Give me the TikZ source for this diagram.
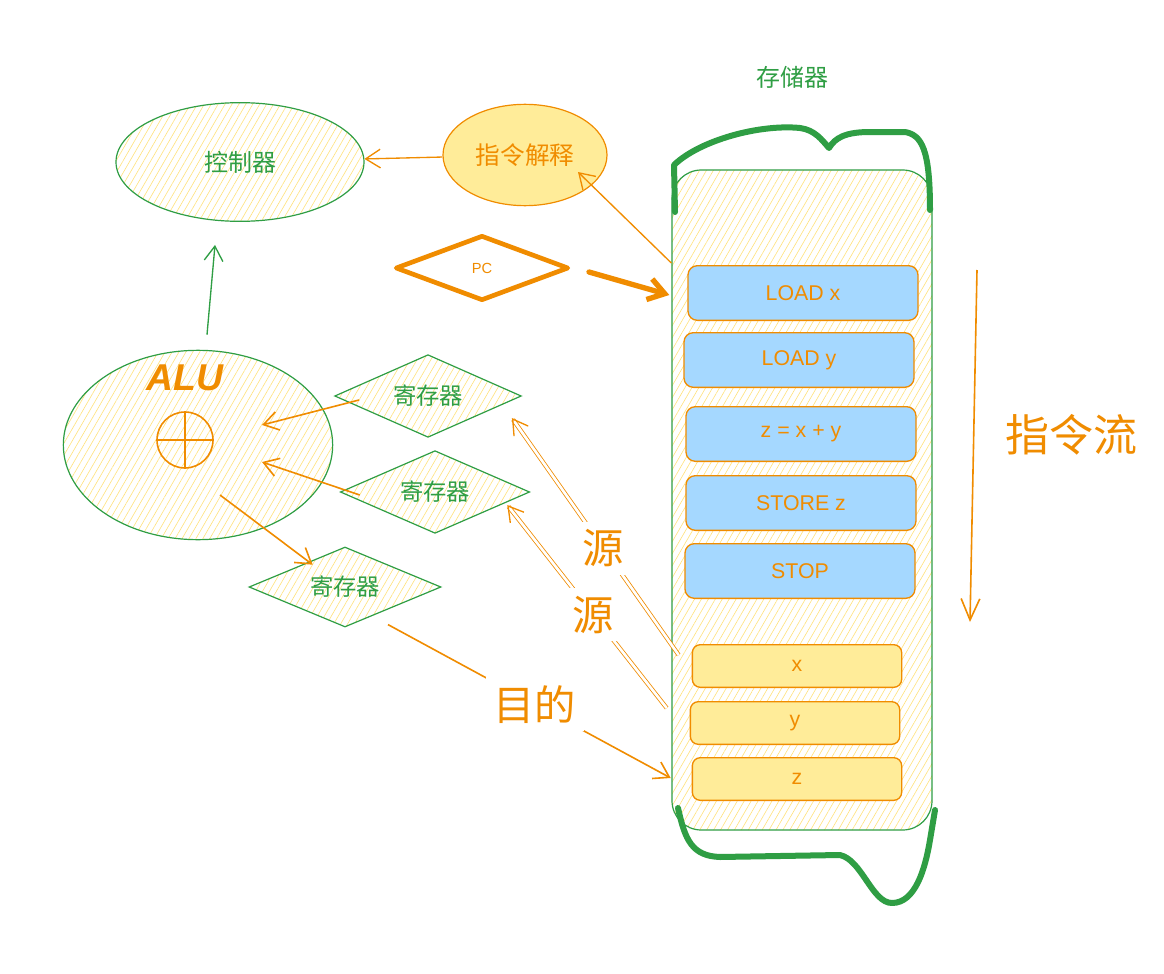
\documentclass[tikz,border=0pt]{standalone}
\usepackage{fontspec}
\setmainfont{Liberation Sans}
\newfontfamily\cjk{Noto Sans CJK SC}
\usetikzlibrary{shapes.geometric,arrows.meta,patterns.meta,calc}
\definecolor{xgreen}{HTML}{2F9E44}
\definecolor{xorange}{HTML}{F08C00}
\definecolor{xblue}{HTML}{A5D8FF}
\definecolor{xyellow}{HTML}{FFEC99}
\definecolor{xhatch}{HTML}{FFE27A}
\begin{document}
\begin{tikzpicture}[x=0.75pt,y=-0.75pt,
  hatch/.style={pattern={Lines[angle=60,distance=4.5pt,line width=0.45pt]},pattern color=xhatch},
  gshape/.style={draw=xgreen,line width=0.9pt,hatch,text=xgreen},
  reg/.style={gshape,diamond,inner sep=0pt,shape aspect=2.6,font=\cjk\fontsize{17.5}{20}\selectfont},
  instr/.style={draw=xorange,fill=xblue,rounded corners=7pt,line width=1pt,minimum width=172.5pt,minimum height=41pt,text=xorange,font=\fontsize{16}{18}\selectfont},
  datab/.style={draw=xorange,fill=xyellow,rounded corners=6pt,line width=1pt,minimum width=157pt,minimum height=32pt,text=xorange,font=\fontsize{16}{18}\selectfont},
  oarr/.style={draw=xorange,line width=1.2pt,-{Straight Barb[length=11pt,width=14pt]}},
  garr/.style={draw=xgreen,line width=1pt,-{Straight Barb[length=11pt,width=14pt]}},
  dbl/.style={double=white,double distance=2pt,line width=0.6pt,draw=xorange,-{Straight Barb[length=11pt,width=13pt,line width=1pt]}},
  lbl/.style={fill=white,inner sep=6pt,text=xorange,font=\cjk\fontsize{31}{33}\selectfont},
  bracket/.style={draw=xgreen,line width=4.5pt,line cap=round,line join=round}
]
\useasboundingbox (0,0) rectangle (1164,974);
\fill[white] (0,0) rectangle (1164,974);

% storage
\node[text=xgreen,font=\cjk\fontsize{18}{20}\selectfont] (memlbl) at (792,77) {存储器};
\node[draw=xgreen,line width=0.9pt,hatch,rounded corners=22pt,minimum width=195pt,minimum height=495pt] (mem) at (802,500) {};
\draw[bracket] (675,212) -- (674,165) .. controls (700,140) and (760,124) .. (800,128) .. controls (815,130) and (822,140) .. (829,148) .. controls (835,138) and (845,132) .. (870,132) -- (905,132) .. controls (922,135) and (930,150) .. (930,210);
\draw[bracket] (678,808) .. controls (685,840) and (692,856) .. (720,857) -- (840,855) .. controls (862,860) and (872,903) .. (892,903) .. controls (915,903) and (925,870) .. (930,840) -- (935,810);

\node[instr] (loadx) at (803,293) {LOAD x};
\node[instr] (loady) at (799,360) {LOAD y};
\node[instr] (add) at (801,434) {z = x + y};
\node[instr] (store) at (801,503) {STORE z};
\node[instr] (stop) at (800,571) {STOP};
\node[datab] (bx) at (797,666) {x};
\node[datab] (by) at (795,723) {y};
\node[datab] (bz) at (797,779) {z};

% instruction flow
\coordinate (f1) at (977,270);
\coordinate (f2) at (970,622);
\draw[oarr,-{Straight Barb[length=16pt,width=14pt]}] (f1) -- (f2);
\node[text=xorange,font=\cjk\fontsize{33}{36}\selectfont] (flow) at (1071,435) {指令流};

% controller and interpreter
\node[gshape,ellipse,minimum width=186pt,minimum height=89pt,font=\cjk\fontsize{18}{20}\selectfont] (ctrl) at (240,162) {控制器};
\node[ellipse,draw=xorange,line width=0.9pt,fill=xyellow,minimum width=123pt,minimum height=76pt,text=xorange,font=\cjk\fontsize{18.5}{20}\selectfont] (interp) at (525,155) {指令解释};

% PC
\node[diamond,draw=xorange,line width=3.5pt,fill=white,line join=round,minimum width=130pt,minimum height=49pt,inner sep=0pt,text=xorange,font=\fontsize{11}{12}\selectfont] (pc) at (482,268) {PC};

% ALU
\node[gshape,ellipse,minimum width=202pt,minimum height=142pt] (alu) at (198,445) {};
\node[text=xorange,font=\bfseries\itshape\fontsize{28}{30}\selectfont] (alulbl) at (185,378) {ALU};
\node[circle,draw=xorange,line width=1.2pt,minimum size=42pt] (plus) at (185,440) {};
\draw[xorange,line width=1pt] (plus.north) -- (plus.south) (plus.west) -- (plus.east);

% registers
\node[reg,minimum width=140pt,minimum height=62pt] (r1) at (428,396) {寄存器};
\node[reg,minimum width=142pt,minimum height=62pt] (r2) at (435,492) {寄存器};
\node[reg,minimum width=144pt,minimum height=60pt] (r3) at (345,587) {寄存器};

% connectors
\draw[oarr,line width=1pt] (interp) -- (ctrl);
\draw[oarr,line width=1pt] ($(loadx.north west)+(-16,-2)$) -- ($(interp)+(53,17)$);
\draw[draw=xorange,line width=4pt,line cap=round,-{Straight Barb[length=12pt,width=16pt,line width=4pt]}] ($(pc.east)+(18,4)$) -- ($(loadx.west)+(-18,2)$);
\draw[garr] ($(alu.north)+(9,-15)$) -- ($(ctrl.south)+(-25,23)$);
\draw[oarr] ($(r1.west)+(25,4)$) -- ($(alu)+(64,-20)$);
\draw[oarr] ($(r2.west)+(20,3)$) -- ($(alu)+(64,17)$);
\draw[oarr] ($(alu)+(22,50)$) -- ($(r3.north west)+(16,-2)$);
\draw[dbl] ($(bx.west)+(-13,-11)$) -- node[lbl,pos=0.45] {源} ($(r1.east)+(-10,22)$);
\draw[dbl] ($(by.west)+(-23,-15)$) -- node[lbl,pos=0.46] {源} ($(r2.east)+(-23,13)$);
\draw[oarr] ($(r3.south)+(43,-3)$) -- node[lbl,pos=0.52] {目的} ($(bz.west)+(-21,-1)$);
\end{tikzpicture}
\end{document}
